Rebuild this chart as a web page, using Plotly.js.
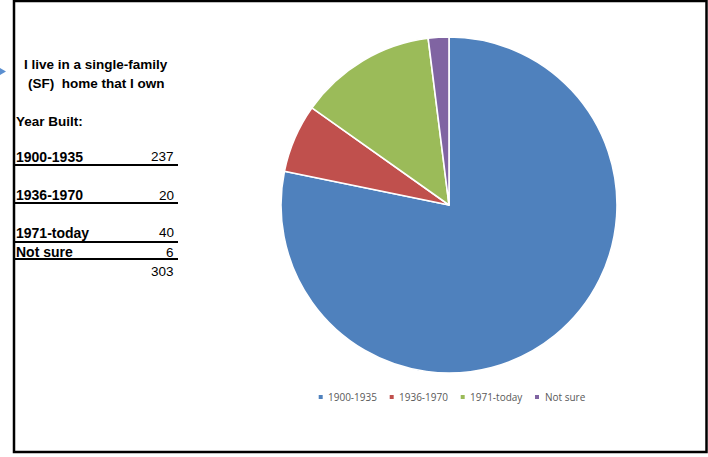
<!DOCTYPE html>
<html>
<head>
<meta charset="utf-8">
<script src="https://cdn.plot.ly/plotly-3.0.1.min.js"></script>
<style>html,body{margin:0;padding:0;background:#fff;}#chart{width:708px;height:457px;}</style>
</head>
<body>
<div id="chart"></div>
<script>
// ---- data ----
const categories = ["1900-1935", "1936-1970", "1971-today", "Not sure"];
const counts = [237, 20, 40, 6];
const titleLines = ["I live in a single-family", "(SF)\u00a0\u00a0home that I own"];
const tableHeading = "Year Built:";
const colors = ["#4F81BD", "#C0504D", "#9BBB59", "#8064A2"];

// ---- layout helpers (pixel -> paper) ----
const W = 708, H = 457;
const px = v => v / W;
const py = v => 1 - v / H;

const annotations = [];
const shapes = [];
const tableFont = {family: "Liberation Sans, Arial, sans-serif", size: 13.5, color: "#000"};
const labelFont = {family: "Liberation Sans, Arial, sans-serif", size: 14, color: "#000"};

// title lines
const titleY = [65, 83];
titleLines.forEach((t, i) => {
  annotations.push({xref: "paper", yref: "paper", x: px(96), y: py(titleY[i]),
    xanchor: "center", yanchor: "middle", showarrow: false, text: "<b>" + t + "</b>", font: tableFont});
});
annotations.push({xref: "paper", yref: "paper", x: px(13.5), y: py(121), xanchor: "left", yanchor: "middle",
  showarrow: false, text: "<b>" + tableHeading + "</b>", font: tableFont});

// table rows
const rowY = [157, 195, 233, 252];
const lineY = [165, 203, 242, 259];
categories.forEach((c, i) => {
  annotations.push({xref: "paper", yref: "paper", x: px(13.5), y: py(rowY[i]), xanchor: "left", yanchor: "middle",
    showarrow: false, text: "<b>" + c + "</b>", font: labelFont});
  annotations.push({xref: "paper", yref: "paper", x: px(176), y: py(rowY[i]), xanchor: "right", yanchor: "middle",
    showarrow: false, text: String(counts[i]), font: tableFont});
  shapes.push({type: "line", xref: "paper", yref: "paper", x0: px(14), x1: px(178), y0: py(lineY[i]), y1: py(lineY[i]),
    line: {color: "#000", width: 1.8}});
});
const total = counts.reduce((a, b) => a + b, 0);
annotations.push({xref: "paper", yref: "paper", x: px(176), y: py(271), xanchor: "right", yanchor: "middle",
  showarrow: false, text: String(total), font: tableFont});

// frame
shapes.push({type: "rect", xref: "paper", yref: "paper", x0: px(14), x1: px(706.5), y0: py(1), y1: py(452),
  line: {color: "#000", width: 2.5}});
// little arrow at left edge
shapes.push({type: "path", xref: "paper", yref: "paper",
  path: `M${px(0)},${py(68)} L${px(6)},${py(71.5)} L${px(0)},${py(75)} Z`,
  fillcolor: "#5B8FD0", line: {width: 0}});

// custom legend
const legMarkX = [320.7, 391.7, 462.7, 537];
const legY = 397;
categories.forEach((c, i) => {
  shapes.push({type: "rect", xref: "paper", yref: "paper", x0: px(legMarkX[i] - 2), x1: px(legMarkX[i] + 2),
    y0: py(legY - 2), y1: py(legY + 2), fillcolor: colors[i], line: {width: 0}});
  annotations.push({xref: "paper", yref: "paper", x: px(legMarkX[i] + 5.5), y: py(legY), xanchor: "left", yanchor: "middle",
    showarrow: false, text: c, font: {family: "Open Sans, sans-serif", size: 10, color: "#595959"}});
});

const trace = {
  type: "pie",
  labels: categories,
  values: counts,
  sort: false,
  direction: "clockwise",
  rotation: 0,
  textinfo: "none",
  marker: {colors: colors, line: {color: "#fff", width: 1.6}},
  domain: {x: [px(281), px(617)], y: [py(373), py(37)]},
  showlegend: false
};

Plotly.newPlot("chart", [trace], {
  width: W, height: H,
  margin: {l: 0, r: 0, t: 0, b: 0},
  paper_bgcolor: "#fff",
  showlegend: false,
  annotations: annotations,
  shapes: shapes
}, {displayModeBar: false, staticPlot: true});
</script>
</body>
</html>
